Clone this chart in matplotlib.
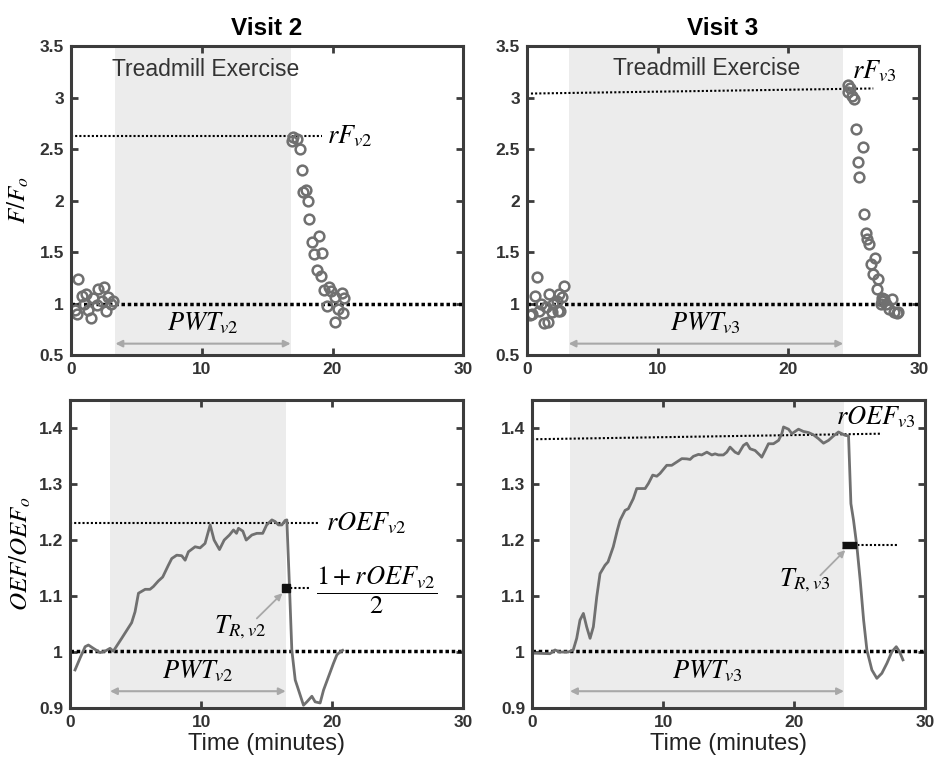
import numpy as np
import matplotlib.pyplot as plt
from matplotlib.ticker import FormatStrFormatter

plt.rcParams['font.family'] = ['Liberation Sans', 'DejaVu Sans']
plt.rcParams['mathtext.fontset'] = 'stix'

# ---- data ----
# F/Fo scatter, visit 2
f2_t = [0.31, 0.49, 0.56, 0.82, 0.96, 1.15, 1.33, 1.51, 1.71, 1.96, 2.09, 2.35, 2.52, 2.68, 2.86, 3.04, 3.24,
        16.9, 17.0, 17.27, 17.52, 17.65, 17.78, 17.97, 18.1, 18.24, 18.42, 18.93, 18.62, 19.18, 18.8, 19.1,
        19.36, 19.77, 19.9, 19.6, 20.2, 20.7, 20.9, 20.4, 20.8, 20.2]
f2_v = [0.94, 0.90, 1.24, 1.07, 1.00, 1.09, 0.94, 0.86, 1.05, 0.99, 1.14, 1.02, 1.16, 0.93, 1.06, 1.00, 1.02,
        2.58, 2.62, 2.60, 2.50, 2.30, 2.085, 2.10, 2.00, 1.82, 1.60, 1.655, 1.48, 1.49, 1.33, 1.27,
        1.13, 1.157, 1.12, 0.975, 1.06, 1.10, 1.05, 0.95, 0.91, 0.82]
# F/Fo scatter, visit 3
f3_t = [0.23, 0.40, 0.61, 0.79, 0.95, 1.10, 1.30, 1.50, 1.64, 1.71, 1.90, 2.00, 2.30, 2.40, 2.50, 2.55, 2.68, 2.83,
        24.54, 24.6, 24.72, 24.85, 25.05, 25.15, 25.69, 25.3, 25.43, 25.81, 25.94, 26.0, 26.2, 26.63, 26.33,
        26.5, 26.88, 26.76, 27.1, 27.15, 27.2, 27.3, 27.5, 27.96, 27.7, 28.1, 28.3, 28.4]
f3_v = [0.888, 0.90, 1.07, 1.26, 0.93, 1.00, 0.813, 0.97, 0.82, 1.09, 0.92, 1.00, 1.02, 0.93, 1.09, 0.93, 1.06, 1.17,
        3.12, 3.06, 3.09, 3.02, 2.99, 2.70, 2.52, 2.38, 2.23, 1.87, 1.69, 1.63, 1.58, 1.44, 1.38,
        1.29, 1.235, 1.14, 1.00, 1.05, 1.02, 1.04, 1.00, 1.04, 0.95, 0.92, 0.91, 0.92]

# OEF/OEFo curve, visit 2
o2_t = [0.38, 0.76, 1.15, 1.4, 1.78, 2.29, 2.67, 3.05, 3.3, 3.94, 4.7, 4.96, 5.22, 5.73, 6.1, 6.36, 6.74, 7.07,
        7.5, 7.76, 8.14, 8.52, 8.78, 9.03, 9.54, 9.92, 10.3, 10.69, 10.99, 11.4, 11.76, 12.16, 12.47, 12.7,
        12.85, 13.18, 13.44, 13.87, 14.25, 14.7, 15.0, 15.4, 15.65, 15.9, 16.16, 16.41, 16.54, 16.74, 16.92,
        17.18, 17.35, 17.81, 18.07, 18.45, 18.7, 19.08, 19.34, 19.72, 20.1, 20.36, 20.6, 20.8]
o2_v = [0.968, 0.989, 1.0095, 1.0125, 1.0066, 0.999, 1.0015, 1.0066, 1.0015, 1.0245, 1.0524, 1.072, 1.105,
        1.112, 1.112, 1.117, 1.127, 1.134, 1.155, 1.167, 1.173, 1.172, 1.164, 1.179, 1.188, 1.186, 1.194,
        1.227, 1.20, 1.183, 1.20, 1.209, 1.218, 1.212, 1.221, 1.216, 1.20, 1.209, 1.212, 1.212, 1.227, 1.236,
        1.233, 1.227, 1.227, 1.235, 1.236, 1.117, 1.0036, 0.95, 0.938, 0.905, 0.911, 0.921, 0.911, 0.909,
        0.932, 0.956, 0.98, 0.995, 1.0, 1.003]
# OEF/OEFo curve, visit 3
o3_t = [0.1, 1.37, 1.76, 2.1, 2.77, 3.15, 3.41, 3.66, 3.92, 4.17, 4.43, 4.68, 4.94, 5.19, 5.57, 5.8, 6.2, 6.51,
        6.72, 7.1, 7.35, 7.73, 7.99, 8.37, 8.63, 8.88, 9.21, 9.52, 9.77, 10.28, 10.66, 11.05, 11.43, 11.81,
        12.06, 12.31, 12.7, 12.95, 13.34, 13.72, 13.97, 14.22, 14.6, 14.86, 15.11, 15.49, 15.75, 16.13, 16.38,
        16.64, 17.02, 17.4, 17.53, 17.79, 18.04, 18.42, 18.81, 19.06, 19.19, 19.57, 19.83, 20.33, 20.7, 21.1,
        21.47, 21.86, 22.24, 22.62, 23.0, 23.38, 23.64, 23.89, 24.15, 24.33, 24.53, 24.79, 25.04, 25.3, 25.55,
        25.93, 26.31, 26.69, 27.08, 27.46, 27.79, 28.04, 28.3]
o3_v = [0.998, 0.997, 1.0037, 1.0, 1.0, 1.004, 1.0245, 1.057, 1.069, 1.045, 1.0245, 1.045, 1.0987, 1.140,
        1.155, 1.161, 1.188, 1.2176, 1.2354, 1.253, 1.256, 1.274, 1.292, 1.292, 1.292, 1.301, 1.316, 1.314,
        1.319, 1.3335, 1.3335, 1.3395, 1.3454, 1.345, 1.344, 1.3495, 1.353, 1.352, 1.357, 1.352, 1.354, 1.352,
        1.352, 1.357, 1.366, 1.357, 1.354, 1.369, 1.373, 1.363, 1.360, 1.3513, 1.348, 1.360, 1.372, 1.372,
        1.378, 1.39, 1.402, 1.398, 1.39, 1.398, 1.394, 1.392, 1.388, 1.381, 1.373, 1.378, 1.386, 1.393, 1.39,
        1.387, 1.386, 1.265, 1.2354, 1.188, 1.128, 1.057, 1.0037, 0.968, 0.953, 0.962, 0.98, 1.0006, 1.0095,
        1.0006, 0.986]

# exercise windows (start, end) in minutes
ex_f2, ex_f3 = (3.4, 16.8), (3.2, 24.2)
ex_o2, ex_o3 = (3.05, 16.45), (2.9, 23.8)
# peak reference lines (x range, y range)
rf2_x, rf2_y = [0, 19.2], [2.625, 2.625]
rf3_x, rf3_y = [0, 26.5], [3.04, 3.09]
ro2_x, ro2_y = [0, 18.9], [1.23, 1.23]
ro3_x, ro3_y = [0, 26.7], [1.38, 1.39]
# half-recovery points
tr2_x, tr2_y, tr2_end = 16.5, 1.114, 18.3
tr3_x, tr3_y, tr3_end = 24.15, 1.191, 27.9
# T_R label arrows: (start x, start y, end x, end y)
tr2_arrow = (14.25, 1.06, 16.2, 1.105)
tr3_arrow = (22.0, 1.137, 23.9, 1.182)

grey = '#707070'
frame = '#3c3c3c'
shade = '#ececec'

fig = plt.figure(figsize=(9.34, 7.66), dpi=100)
ax1 = fig.add_axes([0.076, 0.5366, 0.42, 0.403])
ax2 = fig.add_axes([0.564, 0.5366, 0.42, 0.403])
ax3 = fig.add_axes([0.075, 0.0757, 0.421, 0.402])
ax4 = fig.add_axes([0.5696, 0.0757, 0.421, 0.402])


def style(ax, ylim, yticks):
    ax.set_xlim(0, 30)
    ax.set_ylim(*ylim)
    ax.set_xticks([0, 10, 20, 30])
    ax.set_yticks(yticks)
    ax.yaxis.set_major_formatter(FormatStrFormatter('%g'))
    ax.tick_params(direction='in', top=True, right=True, length=5, width=2, color=frame,
                   labelsize=12.5, labelcolor='#333333', pad=5)
    for lab in ax.get_xticklabels() + ax.get_yticklabels():
        lab.set_fontweight('bold')
    for s in ax.spines.values():
        s.set_color(frame)
        s.set_linewidth(2.2)
        s.set_zorder(5)


def pwt_arrow(ax, span, y):
    ax.annotate('', xy=(span[1], y), xytext=(span[0], y),
                arrowprops=dict(arrowstyle='<|-|>', color='#a8a8a8', lw=1.5,
                                mutation_scale=10, shrinkA=0, shrinkB=0))


def grey_arrow(ax, a):
    ax.annotate('', xy=(a[2], a[3]), xytext=(a[0], a[1]),
                arrowprops=dict(arrowstyle='-|>', color='#a8a8a8', lw=1.3,
                                mutation_scale=10, shrinkA=0, shrinkB=0))


# top row: F/Fo
for ax, t, v, ex, rx, ry, lab, title in [
        (ax1, f2_t, f2_v, ex_f2, rf2_x, rf2_y, 'v2', 'Visit 2'),
        (ax2, f3_t, f3_v, ex_f3, rf3_x, rf3_y, 'v3', 'Visit 3')]:
    style(ax, (0.5, 3.5), [0.5, 1, 1.5, 2, 2.5, 3, 3.5])
    ax.axvspan(ex[0], ex[1], color=shade, lw=0, zorder=0)
    ax.plot(t, v, 'o', mfc='none', mec=grey, ms=7, mew=1.8, zorder=3)
    ax.plot(rx, ry, color='k', ls=(0, (1, 1)), lw=1.5, zorder=2)
    ax.axhline(1, color='k', ls=(0, (1, 0.8)), lw=2.5, zorder=2)
    pwt_arrow(ax, ex, 0.61)
    ax.text((ex[0] + ex[1]) / 2, 0.81, r'$PWT_{%s}$' % lab, ha='center', va='center', fontsize=19)
    ax.set_title(title, fontsize=17.5, fontweight='bold', pad=8)

ax1.text(10.3, 3.27, 'Treadmill Exercise', ha='center', va='center', fontsize=16.5, color='#333333')
ax2.text(13.75, 3.28, 'Treadmill Exercise', ha='center', va='center', fontsize=16.5, color='#333333')
ax1.text(19.6, 2.63, r'$rF_{v2}$', ha='left', va='center', fontsize=19)
ax2.text(24.9, 3.26, r'$rF_{v3}$', ha='left', va='center', fontsize=19)
ax1.set_ylabel(r'$F/F_o$', fontsize=18, labelpad=6)

# bottom row: OEF/OEFo
for ax, t, v, ex, rx, ry, lab in [
        (ax3, o2_t, o2_v, ex_o2, ro2_x, ro2_y, 'v2'),
        (ax4, o3_t, o3_v, ex_o3, ro3_x, ro3_y, 'v3')]:
    style(ax, (0.9, 1.45), [0.9, 1, 1.1, 1.2, 1.3, 1.4])
    ax.axvspan(ex[0], ex[1], color=shade, lw=0, zorder=0)
    ax.plot(t, v, color=grey, lw=2, zorder=3)
    ax.plot(rx, ry, color='k', ls=(0, (1, 1)), lw=1.5, zorder=2)
    ax.axhline(1.002, color='k', ls=(0, (1, 0.8)), lw=2.5, zorder=2)
    pwt_arrow(ax, ex, 0.93)
    ax.text((ex[0] + ex[1]) / 2, 0.966, r'$PWT_{%s}$' % lab, ha='center', va='center', fontsize=19)
    ax.set_xlabel('Time (minutes)', fontsize=17, color='#222222', labelpad=2)

ax3.set_ylabel(r'$OEF/OEF_o$', fontsize=18, labelpad=4)
ax3.text(19.5, 1.23, r'$rOEF_{v2}$', ha='left', va='center', fontsize=19)
ax4.text(26.2, 1.42, r'$rOEF_{v3}$', ha='center', va='center', fontsize=19)

ax3.plot([tr2_x, tr2_end], [tr2_y, tr2_y], color='k', ls=(0, (1, 1)), lw=1.5, zorder=2)
ax3.plot(tr2_x, tr2_y, 's', color='#111111', ms=6, zorder=4)
ax3.text(23.4, 1.11, r'$\dfrac{1+rOEF_{v2}}{2}$', ha='center', va='center', fontsize=19)
grey_arrow(ax3, tr2_arrow)
ax3.text(13.0, 1.045, r'$T_{R,v2}$', ha='center', va='center', fontsize=19)

ax4.plot([tr3_x, tr3_end], [tr3_y, tr3_y], color='k', ls=(0, (1, 1)), lw=1.5, zorder=2)
ax4.plot(tr3_x, tr3_y, marker=[(-1, -0.5), (1, -0.5), (1, 0.5), (-1, 0.5)], color='#111111', ms=10,
         lw=0, zorder=4)
grey_arrow(ax4, tr3_arrow)
ax4.text(20.8, 1.128, r'$T_{R,v3}$', ha='center', va='center', fontsize=19)

fig.savefig('out.png', dpi=100)
